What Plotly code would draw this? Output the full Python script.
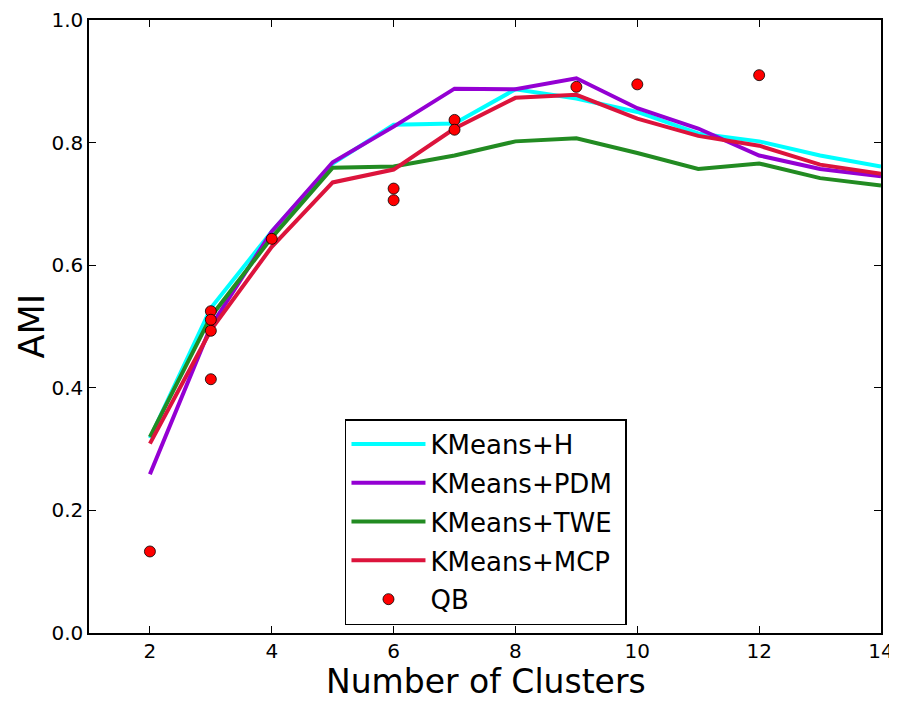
import plotly.graph_objects as go

clusters = [2, 3, 4, 5, 6, 7, 8, 9, 10, 11, 12, 13, 14]
kmeans_h = [0.318, 0.530, 0.655, 0.766, 0.829, 0.831, 0.887, 0.872, 0.850, 0.815, 0.802, 0.779, 0.761]
kmeans_pdm = [0.259, 0.500, 0.655, 0.768, 0.826, 0.888, 0.887, 0.905, 0.856, 0.823, 0.779, 0.757, 0.745]
kmeans_twe = [0.320, 0.516, 0.645, 0.759, 0.761, 0.779, 0.802, 0.807, 0.783, 0.757, 0.766, 0.742, 0.730]
kmeans_mcp = [0.309, 0.494, 0.630, 0.735, 0.756, 0.823, 0.873, 0.878, 0.839, 0.811, 0.795, 0.764, 0.749]

qb_x = [2, 3, 3, 3, 3, 4, 6, 6, 7, 7, 9, 10, 12]
qb_y = [0.133, 0.525, 0.511, 0.493, 0.414, 0.643, 0.725, 0.706, 0.837, 0.821, 0.891, 0.895, 0.910]

x_ticks = [2, 4, 6, 8, 10, 12, 14]
y_ticks = [0.0, 0.2, 0.4, 0.6, 0.8, 1.0]

FONT = "DejaVu Sans"

fig = go.Figure()
series = [
    ("KMeans+H", kmeans_h, "#00FFFF"),
    ("KMeans+PDM\u00a0", kmeans_pdm, "#9400D3"),
    ("KMeans+TWE\u00a0", kmeans_twe, "#228B22"),
    ("KMeans+MCP", kmeans_mcp, "#DC143C"),
]
for i, (name, vals, col) in enumerate(series):
    fig.add_trace(go.Scatter(x=clusters, y=vals, mode="lines", name=name,
                             legendgroup=f"g{i}",
                             line=dict(color=col, width=4)))
fig.add_trace(go.Scatter(x=qb_x, y=qb_y, mode="markers", name="QB",
                         legendgroup="g4",
                         marker=dict(color="#FF0000", size=11,
                                     line=dict(color="#000000", width=0.8))))

axis_common = dict(showline=True, linecolor="black", linewidth=1.5, mirror="ticks",
                   ticks="inside", ticklen=7, tickwidth=1, tickcolor="black",
                   showgrid=False, zeroline=False, automargin=False,
                   tickfont=dict(family=FONT, size=20, color="black"))

fig.update_layout(
    width=889, height=693, autosize=False,
    margin=dict(l=81, r=16, t=12, b=68),
    paper_bgcolor="white", plot_bgcolor="white",
    font=dict(family=FONT, color="black"),
    xaxis=dict(range=[1, 14], tickvals=x_ticks, ticklabelstandoff=-1, **axis_common),
    yaxis=dict(range=[0, 1], tickvals=y_ticks, tickformat=".1f", **axis_common),
    legend=dict(x=0.3232, y=0.349, xanchor="left", yanchor="top",
                bordercolor="black", borderwidth=1.5, bgcolor="white",
                font=dict(family=FONT, size=26, color="black"),
                itemwidth=74, traceorder="grouped", tracegroupgap=2),
    showlegend=True,
    annotations=[
        dict(text="Number of Clusters", xref="paper", yref="paper",
             x=0.501, y=-0.0795, xanchor="center", yanchor="middle",
             showarrow=False, font=dict(family=FONT, size=33, color="black")),
        dict(text="AMI", xref="paper", yref="paper",
             x=-0.072, y=0.5, xanchor="center", yanchor="middle", textangle=-90,
             showarrow=False, font=dict(family=FONT, size=35, color="black")),
    ],
)

fig.write_html("out.html")
